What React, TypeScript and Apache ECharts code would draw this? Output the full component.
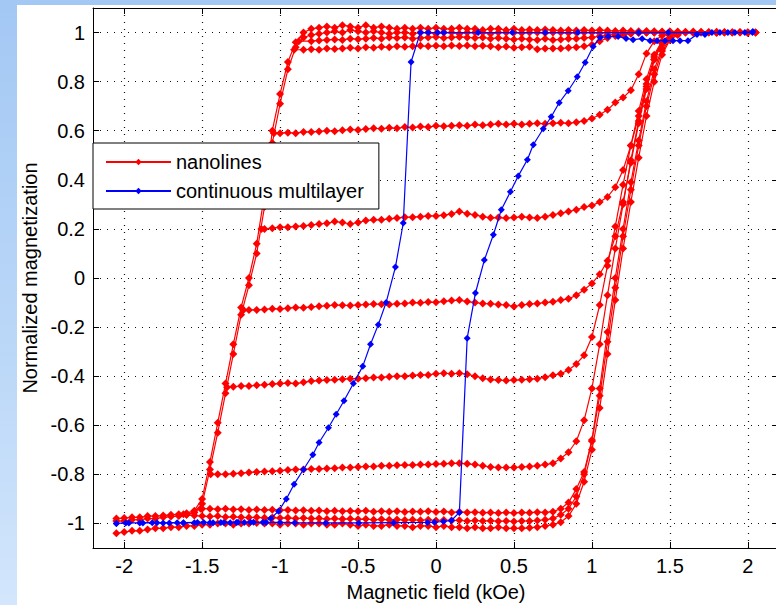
import React, { useEffect, useRef } from "react";
import * as echarts from "echarts";

// Field grid (kOe) shared by the red FORC-type curves
const fieldGrid = [
  -2.05, -2, -1.95, -1.9, -1.85, -1.8, -1.75, -1.7, -1.65, -1.6, -1.55, -1.5, -1.45, -1.4, -1.35, -1.3,
  -1.25, -1.2, -1.15, -1.1, -1.05, -1, -0.95, -0.9, -0.85, -0.8, -0.75, -0.7, -0.65, -0.6, -0.55, -0.5,
  -0.45, -0.4, -0.35, -0.3, -0.25, -0.2, -0.15, -0.1, -0.05, 0, 0.05, 0.1, 0.15, 0.2, 0.25, 0.3, 0.35,
  0.4, 0.45, 0.5, 0.55, 0.6, 0.65, 0.7, 0.75, 0.8, 0.85, 0.9, 0.95, 1, 1.05, 1.1, 1.15, 1.2, 1.25, 1.3,
  1.35, 1.4, 1.45, 1.5, 1.55, 1.6, 1.65, 1.7, 1.75, 1.8, 1.85, 1.9, 1.95, 2, 2.05,
];

const xTickValues = [-2, -1.5, -1, -0.5, 0, 0.5, 1, 1.5, 2];
const yTickValues = [-1, -0.8, -0.6, -0.4, -0.2, 0, 0.2, 0.4, 0.6, 0.8, 1];

// Major descending branch (values on fieldGrid)
const nanoDescMain = [
  -0.99, -0.99, -0.985, -0.985, -0.98, -0.98, -0.975, -0.972, -0.97, -0.965, -0.955,
  -0.92, -0.78, -0.63, -0.47, -0.31, -0.15, -0.03, 0.1, 0.29, 0.55, 0.71, 0.85, 0.94,
  0.98, 0.99, 0.995, 1.0, 1.005, 1.0, 1.01, 1.005, 1.0, 1.005, 1.0, 0.995, 1.0, 1.0, 0.995, 1.0, 1.0,
  0.995, 1.0, 1.0, 0.995, 1.0, 1.0, 1.0, 0.995, 1.0, 1.0, 1.0, 0.998, 1.0, 1.0, 0.998, 1.0, 1.0, 0.998, 1.0, 1.0,
  1.0, 0.998, 1.0, 1.0, 1.0, 0.998, 1.0, 1.0, 1.0, 1.0, 1.0, 1.0, 1.0, 1.0, 1.0, 1.0, 1.0, 1.0, 1.0, 1.0, 1.0, 1.0,
];

// Second descending branch (upper)
const nanoDescUpper = [
  -0.98, -0.978, -0.975, -0.975, -0.97, -0.97, -0.968, -0.965, -0.962, -0.958, -0.948,
  -0.9, -0.75, -0.59, -0.43, -0.27, -0.12, 0.0, 0.14, 0.34, 0.6, 0.75, 0.88, 0.96,
  1.0, 1.015, 1.02, 1.025, 1.02, 1.03, 1.025, 1.02, 1.03, 1.02, 1.025, 1.02, 1.015, 1.02, 1.015, 1.02, 1.015,
  1.02, 1.015, 1.015, 1.02, 1.015, 1.015, 1.01, 1.015, 1.015, 1.01, 1.015, 1.01, 1.012, 1.01, 1.012, 1.01, 1.008, 1.01, 1.008, 1.01,
  1.008, 1.01, 1.008, 1.006, 1.008, 1.006, 1.005, 1.006, 1.005, 1.004, 1.005, 1.004, 1.003, 1.004, 1.003, 1.002, 1.003, 1.002, 1.001, 1.002, 1.001, 1.0,
];

// Major ascending branch
const nanoAscMajor = [
  -1.04, -1.035, -1.03, -1.03, -1.025, -1.02, -1.02, -1.015, -1.015, -1.01, -1.01,
  -1.005, -1.005, -1.0, -1.0, -1.005, -1.0, -1.0, -0.998, -1.0, -1.0, -1.005, -1.0, -1.0,
  -1.005, -1.0, -1.0, -1.005, -1.005, -1.0, -1.005, -1.01, -1.005, -1.01, -1.01, -1.005, -1.01, -1.01, -1.015, -1.01, -1.01,
  -1.015, -1.01, -1.015, -1.015, -1.02, -1.015, -1.02, -1.02, -1.015, -1.02, -1.02, -1.02, -1.018, -1.015, -1.01, -1.005, -0.995, -0.97, -0.92, -0.83,
  -0.7, -0.53, -0.31, -0.09, 0.12, 0.31, 0.49, 0.66, 0.8, 0.91, 0.97, 0.99, 1.0, 0.998, 1.0, 1.0, 0.998, 1.0, 1.0, 1.0, 0.998, 1.0,
];

// Recoil curves: reversal point, then values on fieldGrid from startField
const recoilTopM = [
  0.965, 0.968, 0.97, 0.972, 0.97, 0.975, 0.973, 0.975, 0.978, 0.975,
  0.98, 0.978, 0.98, 0.975, 0.978, 0.98, 0.982, 0.978, 0.98, 0.982,
  0.98, 0.978, 0.98, 0.975, 0.978, 0.975, 0.972, 0.975, 0.972, 0.97,
  0.975, 0.97, 0.972, 0.975, 0.975, 0.978, 0.98, 0.985, 0.99, 0.993,
  0.995, 0.998, 1.0, 1.0, 1.0, 1.0,
];
const recoil093M = [
  0.93, 0.932, 0.93, 0.935, 0.933, 0.935, 0.938, 0.935, 0.94, 0.938,
  0.942, 0.94, 0.944, 0.942, 0.944, 0.946, 0.944, 0.946, 0.944, 0.947,
  0.945, 0.947, 0.944, 0.946, 0.944, 0.94, 0.943, 0.938, 0.94, 0.942,
  0.932, 0.935, 0.935, 0.935, 0.938, 0.94, 0.944, 0.95, 0.965, 0.978,
  0.986, 0.99, 0.995, 0.998, 1.0, 1.0, 1.0, 1.0, 1.0,
];
const recoil060M = [
  0.59, 0.592, 0.59, 0.595, 0.595, 0.597, 0.6, 0.598, 0.602, 0.605,
  0.603, 0.607, 0.61, 0.608, 0.612, 0.61, 0.615, 0.613, 0.617, 0.615,
  0.62, 0.618, 0.62, 0.622, 0.62, 0.625, 0.622, 0.625, 0.628, 0.625,
  0.628, 0.625, 0.628, 0.63, 0.628, 0.63, 0.632, 0.63, 0.635, 0.64,
  0.65, 0.665, 0.685, 0.715, 0.735, 0.765, 0.83, 0.915, 0.965, 0.988,
  0.997, 1.0,
];
const recoil025M = [
  0.2, 0.203, 0.207, 0.207, 0.21, 0.212, 0.216, 0.22, 0.223, 0.23,
  0.226, 0.22, 0.226, 0.234, 0.237, 0.237, 0.241, 0.244, 0.248, 0.248,
  0.25, 0.253, 0.253, 0.256, 0.261, 0.271, 0.262, 0.257, 0.25, 0.245,
  0.246, 0.244, 0.246, 0.25, 0.246, 0.244, 0.25, 0.257, 0.264, 0.271,
  0.278, 0.289, 0.295, 0.31, 0.33, 0.37, 0.44, 0.54, 0.66, 0.79,
  0.9, 0.96, 0.99, 1.0,
];
const recoilNeg012M = [
  -0.13, -0.13, -0.128, -0.125, -0.126, -0.123, -0.12, -0.121, -0.118, -0.115,
  -0.113, -0.11, -0.111, -0.112, -0.11, -0.108, -0.106, -0.107, -0.108, -0.105,
  -0.104, -0.1, -0.101, -0.098, -0.099, -0.095, -0.092, -0.09, -0.096, -0.1,
  -0.104, -0.105, -0.108, -0.11, -0.116, -0.11, -0.106, -0.104, -0.1, -0.097,
  -0.09, -0.085, -0.07, -0.048, -0.022, 0.015, 0.07, 0.17, 0.31, 0.47,
  0.63, 0.77, 0.89, 0.96, 0.99, 1.0,
];
const recoilNeg042M = [
  -0.443, -0.44, -0.44, -0.437, -0.435, -0.432, -0.43, -0.428, -0.43, -0.425,
  -0.42, -0.418, -0.416, -0.415, -0.412, -0.41, -0.41, -0.408, -0.405, -0.405,
  -0.402, -0.4, -0.4, -0.397, -0.395, -0.395, -0.39, -0.388, -0.39, -0.388,
  -0.392, -0.4, -0.408, -0.414, -0.416, -0.418, -0.416, -0.415, -0.412, -0.41,
  -0.404, -0.396, -0.39, -0.375, -0.35, -0.315, -0.24, -0.11, 0.05, 0.21,
  0.38, 0.54, 0.68, 0.81, 0.91, 0.965, 0.99, 1.0,
];
const recoilNeg080M = [
  -0.8, -0.8, -0.797, -0.795, -0.792, -0.79, -0.788, -0.787, -0.785, -0.782,
  -0.78, -0.78, -0.778, -0.778, -0.776, -0.775, -0.772, -0.772, -0.77, -0.768,
  -0.768, -0.765, -0.765, -0.763, -0.762, -0.762, -0.76, -0.76, -0.758, -0.757,
  -0.755, -0.755, -0.757, -0.76, -0.765, -0.77, -0.772, -0.772, -0.772, -0.77,
  -0.768, -0.765, -0.76, -0.755, -0.735, -0.71, -0.665, -0.58, -0.45, -0.27,
  -0.07, 0.12, 0.3, 0.48, 0.64, 0.78, 0.89, 0.955, 0.988, 1.0,
];
const recoilNeg094M = [
  -0.94, -0.94, -0.942, -0.94, -0.943, -0.942, -0.945, -0.943, -0.945, -0.944,
  -0.946, -0.945, -0.947, -0.946, -0.948, -0.947, -0.95, -0.948, -0.95, -0.949,
  -0.95, -0.948, -0.952, -0.95, -0.952, -0.95, -0.953, -0.951, -0.952, -0.95,
  -0.953, -0.951, -0.955, -0.953, -0.955, -0.954, -0.956, -0.955, -0.957, -0.955,
  -0.957, -0.955, -0.956, -0.954, -0.955, -0.952, -0.94, -0.915, -0.86, -0.79,
  -0.66, -0.45, -0.22, 0.0, 0.2, 0.39, 0.56, 0.72, 0.85, 0.935,
  0.978, 0.996,
];
const recoilNeg097M = [
  -0.965, -0.968, -0.97, -0.972, -0.97, -0.974, -0.973, -0.975, -0.976, -0.975,
  -0.977, -0.976, -0.978, -0.977, -0.98, -0.978, -0.98, -0.979, -0.982, -0.98,
  -0.982, -0.981, -0.983, -0.982, -0.985, -0.983, -0.985, -0.984, -0.986, -0.985,
  -0.987, -0.985, -0.988, -0.986, -0.988, -0.987, -0.99, -0.988, -0.99, -0.989,
  -0.991, -0.99, -0.992, -0.99, -0.99, -0.988, -0.985, -0.98, -0.965, -0.94,
  -0.89, -0.8, -0.665, -0.48, -0.26, -0.04, 0.17, 0.36, 0.54, 0.7,
  0.83, 0.925, 0.972, 0.994,
];

const recoilCurves = [
  { turn: [-0.88, 0.965], startField: -0.8, m: recoilTopM },
  { turn: [-0.91, 0.93], startField: -0.85, m: recoil093M },
  { turn: [-1.04, 0.59], startField: -1, m: recoil060M },
  { turn: [-1.12, 0.2], startField: -1.1, m: recoil025M },
  { turn: [-1.235, -0.13], startField: -1.2, m: recoilNeg012M },
  { turn: [-1.34, -0.445], startField: -1.3, m: recoilNeg042M },
  { turn: [-1.445, -0.8], startField: -1.4, m: recoilNeg080M },
  { turn: [-1.51, -0.94], startField: -1.5, m: recoilNeg094M },
  { turn: [-1.62, -0.962], startField: -1.6, m: recoilNeg097M },
];

// Continuous multilayer loop (blue)
const multilayerDescField = [
  2.03, 1.49, 1.3, 0.91, 0.7, 0.49, 0.27, 0.05, 0.01, -0.05, -0.1, -0.16, -0.21, -0.26, -0.32,
  -0.37, -0.42, -0.47, -0.53, -0.59, -0.64, -0.69, -0.75, -0.79, -0.85, -0.91, -0.96, -1.01,
  -1.06, -1.11, -1.17, -1.23, -1.27, -1.32, -1.38, -1.43, -1.49, -1.55, -1.62, -1.66, -1.75,
  -1.82, -1.9, -1.99, -2.05,
];
const multilayerDescM = [
  1.0, 1.0, 1.0, 1.0, 1.0, 1.0, 1.0, 1.0, 1.0, 1.0, 1.0, 0.88, 0.224, 0.045, -0.1,
  -0.19, -0.27, -0.36, -0.43, -0.5, -0.555, -0.61, -0.67, -0.72, -0.78, -0.84, -0.9, -0.95,
  -0.98, -0.995, -0.995, -0.996, -0.995, -0.997, -0.996, -0.997, -0.996, -0.997, -0.998, -0.997, -0.998,
  -0.997, -0.998, -0.998, -1.0,
];
const multilayerAscField = [
  -2.05, -1.97, -1.88, -1.79, -1.71, -1.62, -1.53, -1.45, -1.36, -1.28, -1.19, -1.09, -1.0,
  -0.906, -0.707, -0.496, -0.272, -0.054, -0.01, 0.048, 0.099, 0.15, 0.2, 0.253, 0.31, 0.368,
  0.419, 0.477, 0.528, 0.586, 0.624, 0.688, 0.739, 0.79, 0.848, 0.906, 0.957, 1.008, 1.053,
  1.104, 1.168, 1.219, 1.264, 1.322, 1.373, 1.418, 1.469, 1.52, 1.565, 1.616, 1.674, 1.725,
  1.77, 1.821, 1.872, 1.917, 1.981, 2.032,
];
const multilayerAscM = [
  -1.0, -0.998, -0.998, -0.997, -0.998, -0.997, -0.996, -0.997, -0.996, -0.996, -0.995, -0.996, -0.996,
  -0.997, -0.998, -0.998, -0.997, -0.996, -0.995, -0.992, -0.988, -0.955, -0.245, -0.061, 0.073, 0.176,
  0.278, 0.351, 0.416, 0.482, 0.543, 0.608, 0.657, 0.714, 0.763, 0.82, 0.878, 0.943, 0.98,
  0.984, 0.984, 0.976, 0.971, 0.975, 0.967, 0.967, 0.967, 0.967, 0.967, 0.967, 0.992, 0.992,
  1.0, 1.0, 1.0, 1.0, 1.0, 1.004,
];

const FONT = "'Liberation Sans', Arial, Helvetica, sans-serif";

function gridCurve(startField: number, m: number[], turn?: number[]) {
  const start = fieldGrid.indexOf(startField);
  const pts: number[][] = [];
  if (turn) pts.push(turn);
  m.forEach((v, k) => pts.push([fieldGrid[start + k], v]));
  return pts;
}

function zipXY(xs: number[], ys: number[]) {
  return xs.map((x, i) => [x, ys[i]]);
}

export default function App() {
  const ref = useRef<HTMLDivElement>(null);

  useEffect(() => {
    if (!ref.current) return;
    const chart = echarts.init(ref.current, null, { renderer: "svg" });

    const redBase = {
      type: "line",
      name: "nanolines",
      xAxisIndex: 0,
      yAxisIndex: 0,
      symbol: "diamond",
      symbolSize: 8,
      showSymbol: true,
      lineStyle: { color: "#ff0000", width: 1.2 },
      itemStyle: { color: "#ff0000" },
      emphasis: { disabled: true },
      silent: true,
      z: 2,
      animation: false,
    };

    const redSeries: any[] = [
      { ...redBase, data: gridCurve(-2.05, nanoDescMain) },
      { ...redBase, data: gridCurve(-2.05, nanoDescUpper) },
      { ...redBase, data: gridCurve(-2.05, nanoAscMajor) },
      ...recoilCurves.map((c) => ({ ...redBase, data: gridCurve(c.startField, c.m, c.turn) })),
    ];

    const blueSeries = {
      type: "line",
      name: "continuous multilayer",
      xAxisIndex: 0,
      yAxisIndex: 0,
      symbol: "diamond",
      symbolSize: 7,
      showSymbol: true,
      lineStyle: { color: "#0000ff", width: 1.2 },
      itemStyle: { color: "#0000ff" },
      emphasis: { disabled: true },
      silent: true,
      z: 3,
      animation: false,
      data: [
        ...zipXY(multilayerDescField, multilayerDescM),
        ...zipXY(multilayerAscField, multilayerAscM),
      ],
    };

    const axisLine = { show: true, onZero: false, lineStyle: { color: "#000", width: 1 } };
    const dotted = { show: true, lineStyle: { type: [1, 6], color: "#111", width: 1.2 } };

    const option: any = {
      animation: false,
      textStyle: { fontFamily: FONT },
      grid: { left: 93, top: 8, width: 686, height: 540, containLabel: false, outerBoundsMode: "none" },
      legend: {
        data: ["nanolines", "continuous multilayer"],
        orient: "vertical",
        left: 93,
        top: 143,
        backgroundColor: "#ffffff",
        borderColor: "#000",
        borderWidth: 1,
        borderRadius: 0,
        padding: [9, 15, 8, 12],
        itemGap: 9,
        itemWidth: 65,
        itemHeight: 8,
        selectedMode: false,
        textStyle: { fontSize: 20, color: "#000", fontFamily: FONT },
      },
      xAxis: [
        {
          type: "value",
          min: -2.2,
          max: 2.2,
          position: "bottom",
          name: "Magnetic field (kOe)",
          nameLocation: "middle",
          nameGap: 34,
          nameTextStyle: { fontSize: 20, color: "#000", fontFamily: FONT },
          axisLine,
          axisTick: { show: true, inside: true, length: 6, customValues: xTickValues, lineStyle: { color: "#000" } },
          axisLabel: { show: true, customValues: xTickValues, fontSize: 20, color: "#000", margin: 8, fontFamily: FONT },
          splitLine: dotted,
        },
        {
          type: "value",
          min: -2.2,
          max: 2.2,
          position: "top",
          axisLine,
          axisTick: { show: true, inside: true, length: 6, customValues: xTickValues, lineStyle: { color: "#000" } },
          axisLabel: { show: false },
          splitLine: { show: false },
        },
      ],
      yAxis: [
        {
          type: "value",
          min: -1.1,
          max: 1.1,
          position: "left",
          name: "Normalized magnetization",
          nameLocation: "middle",
          nameGap: 50,
          nameTextStyle: { fontSize: 20, color: "#000", fontFamily: FONT },
          axisLine,
          axisTick: { show: true, inside: true, length: 6, customValues: yTickValues, lineStyle: { color: "#000" } },
          axisLabel: { show: true, customValues: yTickValues, fontSize: 20, color: "#000", margin: 8, fontFamily: FONT },
          splitLine: dotted,
        },
        {
          type: "value",
          min: -1.1,
          max: 1.1,
          position: "right",
          axisLine,
          axisTick: { show: true, inside: true, length: 6, customValues: yTickValues, lineStyle: { color: "#000" } },
          axisLabel: { show: false },
          splitLine: { show: false },
        },
      ],
      series: [...redSeries, blueSeries],
    };

    chart.setOption(option);
    return () => chart.dispose();
  }, []);

  return (
    <div
      style={{
        position: "fixed",
        left: 0,
        top: 0,
        width: 776,
        height: 605,
        overflow: "hidden",
        background: "linear-gradient(180deg, #a3c8f4 0%, #bcd8f8 60%, #d3e6fc 100%)",
      }}
    >
      <div style={{ position: "absolute", left: 17, top: 5, right: 0, bottom: 0, background: "#ffffff" }} />
      <div ref={ref} style={{ position: "absolute", left: 0, top: 0, width: 776, height: 605 }} />
    </div>
  );
}
